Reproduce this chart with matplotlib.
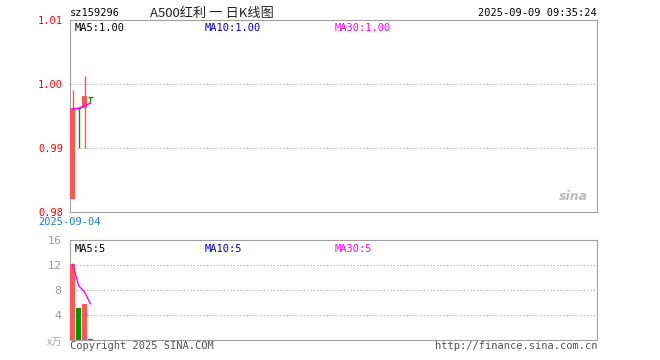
import matplotlib
matplotlib.use("Agg")
from matplotlib import pyplot as plt

plt.rcParams['font.family'] = ['DejaVu Sans Mono', 'Noto Sans CJK SC']

# daily K-line data
opens = [0.9820, 0.9962, 0.9962, 0.9980]
closes = [0.9962, 0.9962, 0.9982, 0.9980]
highs = [0.9991, 0.9962, 1.0012, 0.9980]
lows = [0.9820, 0.9900, 0.9900, 0.9970]
up = [True, False, True, False]
ma5_price = [0.9961, 0.9962, 0.9966, 0.9970]
volumes = [12.1, 5.2, 5.8, 0.2]
ma5_vol = [12.1, 8.7, 7.7, 5.8]

price_ticks = [0.98, 0.99, 1.00, 1.01]
vol_ticks = [4, 8, 12, 16]

RED = '#ff5555'
GREEN = '#009900'
W, H = 660, 360

fig = plt.figure(figsize=(6.6, 3.6), dpi=100)
fig.patch.set_facecolor('white')

def px_axes(l, t, r, b):
    return fig.add_axes([l / W, 1 - b / H, (r - l) / W, (b - t) / H])

xlim = (-0.46, 88.9)

# ---- price panel
ax = px_axes(70, 20, 597, 212)
ax.set_xlim(*xlim)
ax.set_ylim(0.98, 1.01)
for i in range(len(opens)):
    c = RED if up[i] else GREEN
    ax.vlines(i, lows[i], highs[i], color=c, lw=1, zorder=3)
    if abs(closes[i] - opens[i]) < 1e-6:
        ax.hlines(opens[i], i - 0.4, i + 0.4, color=c, lw=1, zorder=3)
    else:
        ax.bar(i, closes[i] - opens[i], bottom=opens[i], width=0.8,
               color=c, zorder=3)
ax.plot(range(len(ma5_price)), ma5_price, color='#ff00ff', lw=1, zorder=4)
for y in [0.99, 1.00]:
    ax.axhline(y, color='#aaaaaa', lw=0.8, ls=(0, (1, 2)), zorder=1)
ax.set_xticks([])
ax.set_yticks(price_ticks)
ax.set_yticklabels(['%.2f' % v for v in price_ticks], color='red', fontsize=7.5)
ax.tick_params(axis='y', length=0, pad=5)
for s in ax.spines.values():
    s.set_color('#a0a0a0')
ax.text(0.008, 0.985, 'MA5:1.00', transform=ax.transAxes, fontsize=7.5,
        color='black', va='top')
ax.text(0.255, 0.985, 'MA10:1.00', transform=ax.transAxes, fontsize=7.5,
        color='#0000cc', va='top')
ax.text(0.502, 0.985, 'MA30:1.00', transform=ax.transAxes, fontsize=7.5,
        color='#ff00ff', va='top')
ax.text(0.955, 0.06, 'sina', transform=ax.transAxes, fontsize=9,
        color='#bbbbbb', style='italic', fontweight='bold', ha='center',
        family='DejaVu Sans')

# ---- volume panel
av = px_axes(70, 240, 597, 340)
av.set_xlim(*xlim)
av.set_ylim(0, 16)
for i, v in enumerate(volumes):
    av.bar(i, v, width=0.8, color=RED if up[i] else GREEN, zorder=3)
av.plot(range(len(ma5_vol)), ma5_vol, color='#ff00ff', lw=1, zorder=4)
for y in [4, 8, 12]:
    av.axhline(y, color='#aaaaaa', lw=0.8, ls=(0, (1, 2)), zorder=1)
av.set_xticks([])
av.set_yticks(vol_ticks)
av.set_yticklabels([str(v) for v in vol_ticks], color='#999999', fontsize=8,
                   family='DejaVu Sans')
av.tick_params(axis='y', length=0, pad=6)
for s in av.spines.values():
    s.set_color('#a0a0a0')
av.text(0.008, 0.96, 'MA5:5', transform=av.transAxes, fontsize=7.5,
        color='black', va='top')
av.text(0.255, 0.96, 'MA10:5', transform=av.transAxes, fontsize=7.5,
        color='#0000cc', va='top')
av.text(0.502, 0.96, 'MA30:5', transform=av.transAxes, fontsize=7.5,
        color='#ff00ff', va='top')

# ---- header / footer text
fig.text(70 / W, 1 - 13 / H, 'sz159296', fontsize=7.5, va='center')
fig.text(150 / W, 1 - 13 / H, 'A500红利 一 日K线图', fontsize=9.5, va='center',
         family=['Noto Sans CJK SC', 'DejaVu Sans'], color='#222222')
fig.text(597 / W, 1 - 13 / H, '2025-09-09 09:35:24', fontsize=7.5,
         va='center', ha='right')
fig.text(38 / W, 1 - 222 / H, '2025-09-04', fontsize=7.5, va='center',
         color='#1a7fd0')
fig.text(62 / W, 1 - 343 / H, 'x万', fontsize=7.5, va='center', ha='right',
         color='#aaaaaa', family=['Noto Sans CJK SC', 'DejaVu Sans'])
fig.text(70 / W, 1 - 346 / H, 'Copyright 2025 SINA.COM', fontsize=7.5,
         va='center', color='#555555')
fig.text(597 / W, 1 - 346 / H, 'http://finance.sina.com.cn', fontsize=7.5,
         va='center', ha='right', color='#555555')

fig.savefig('out.png', dpi=100)
